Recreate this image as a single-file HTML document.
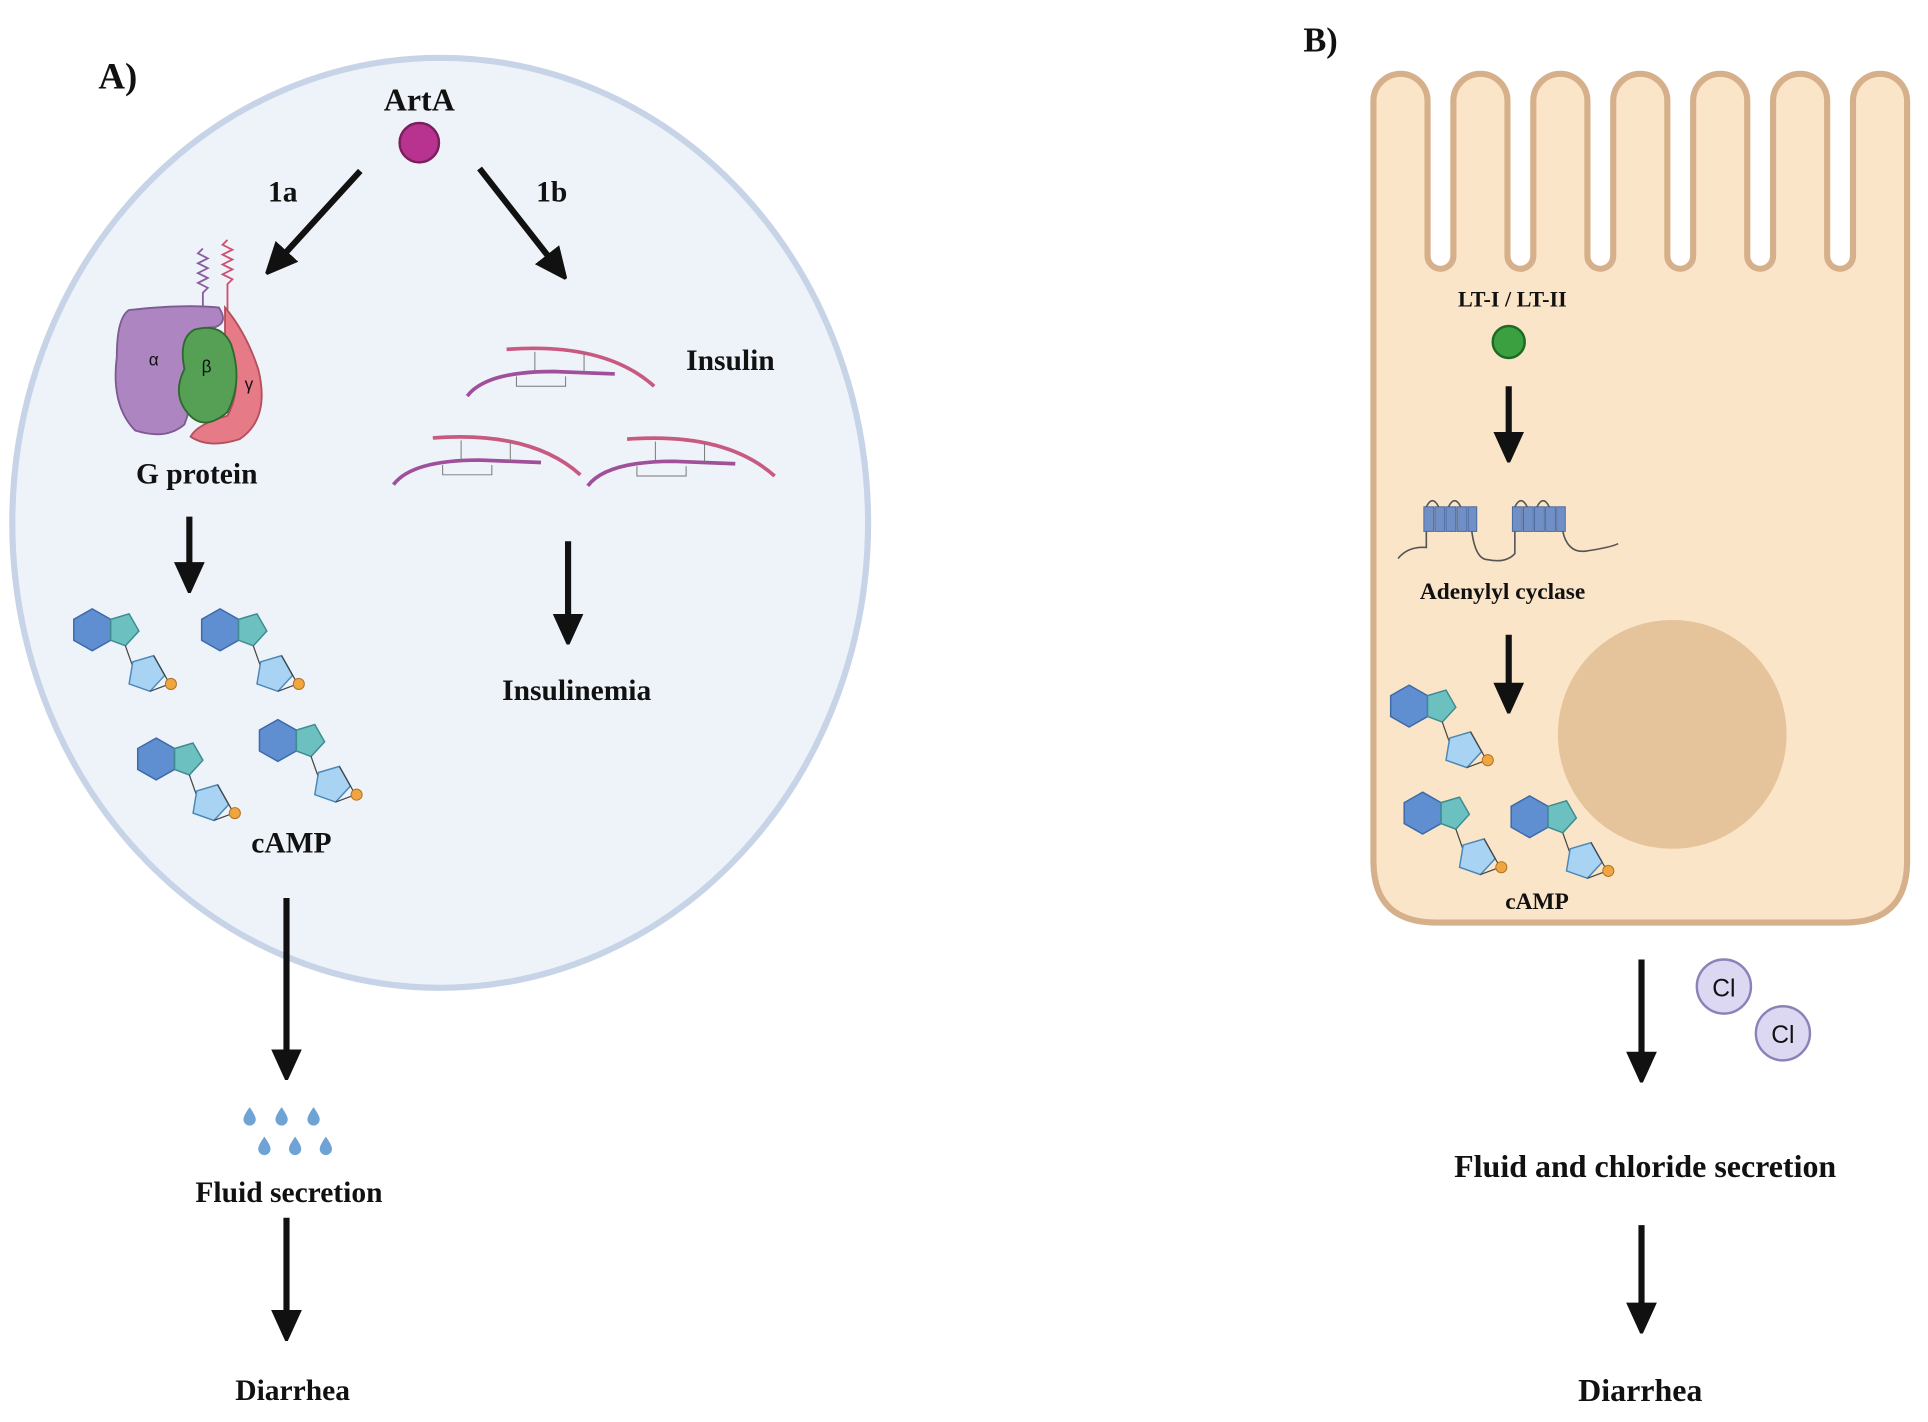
<!DOCTYPE html><html><head><style>html,body{margin:0;padding:0;background:#fff}svg{display:block}text{font-family:"Liberation Serif",serif;font-weight:bold;fill:#111}</style></head><body>
<svg width="1928" height="1422" viewBox="0 0 1568 1156" preserveAspectRatio="none">
<defs>
<g id="camp">
<polygon points="0,-17 15,-8.5 15,8.5 0,17 -15,8.5 -15,-8.5" fill="#5f8fd0" stroke="#3d6aa8" stroke-width="1.2"/>
<polygon points="15,-8.5 30,-13 38,1 27,13 15,8.5" fill="#6cc0c0" stroke="#3d8c90" stroke-width="1.2"/>
<line x1="27" y1="13" x2="33" y2="30" stroke="#444" stroke-width="1"/>
<polygon points="33,26 50,21 59,37 47,50 30,44" fill="#a9d3f3" stroke="#4a88b8" stroke-width="1.2"/>
<line x1="50" y1="21" x2="63" y2="44" stroke="#444" stroke-width="1"/><line x1="47" y1="50" x2="63" y2="44" stroke="#444" stroke-width="1"/>
<circle cx="64" cy="44" r="4.5" fill="#f0a640" stroke="#b07020" stroke-width="0.8"/>
</g>
<marker id="ah" markerWidth="5" markerHeight="5" refX="1" refY="2.5" orient="auto" markerUnits="strokeWidth"><path d="M0,0 L5.5,2.5 L0,5 Z" fill="#111"/></marker>
<g id="ins" fill="none" stroke-width="3">
<path d="M0,0 Q80,-6 120,30" stroke="#c85a80" transform="translate(-8,0)"/>
<path d="M-40,38 Q-25,18 30,18 L80,20" stroke="#a0509a"/>
<line x1="15" y1="2" x2="15" y2="18" stroke="#777" stroke-width="0.8"/><line x1="55" y1="3" x2="55" y2="19" stroke="#777" stroke-width="0.8"/>
<path d="M0,22 L0,30 L40,30 L40,22" stroke="#777" stroke-width="0.8"/>
</g>
</defs>
<text x="80" y="72" font-size="30">A)</text>
<text x="1060" y="42" font-size="28">B)</text>
<ellipse cx="358" cy="425" rx="348" ry="378" fill="#eef3fa" stroke="#c7d3e6" stroke-width="5"/>
<text x="341" y="90" font-size="26" text-anchor="middle">ArtA</text>
<circle cx="341" cy="116" r="16" fill="#b8338f" stroke="#7a1f5e" stroke-width="2"/>
<text x="218" y="164" font-size="24">1a</text><text x="436" y="164" font-size="24">1b</text>
<!-- G protein -->
<path d="M165,202 l-4,4 l8,4 l-8,4 l8,4 l-8,4 l8,4 l-8,4 l8,4 l-4,4 V250" stroke="#8a5fa0" stroke-width="1.5" fill="none"/>
<path d="M185,195 l-4,4 l8,4 l-8,4 l8,4 l-8,4 l8,4 l-8,4 l8,4 l-4,4 V260" stroke="#d05070" stroke-width="1.5" fill="none"/>
<path d="M105,252 Q150,247 178,250 Q186,262 175,266 Q150,266 150,290 Q160,320 150,345 Q135,358 110,350 Q90,330 95,290 Q95,258 105,252 Z" fill="#ad85c0" stroke="#7d5a92" stroke-width="1.5"/>
<path d="M183,250 Q200,270 210,300 Q220,340 195,357 Q170,365 155,355 Q160,345 185,338 Q200,310 183,275 Z" fill="#e67a86" stroke="#b4505e" stroke-width="1.5"/>
<path d="M158,268 Q180,262 188,280 Q198,310 185,335 Q165,352 152,335 Q140,320 150,300 Q145,275 158,268 Z" fill="#55a055" stroke="#2e6a30" stroke-width="1.5"/>
<text x="121" y="297" font-size="14" style="font-weight:normal;font-family:'Liberation Sans',sans-serif">α</text>
<text x="164" y="303" font-size="14" style="font-weight:normal;font-family:'Liberation Sans',sans-serif">β</text>
<text x="199" y="317" font-size="14" style="font-weight:normal;font-family:'Liberation Sans',sans-serif">γ</text>
<text x="160" y="393" font-size="24" text-anchor="middle">G protein</text>
<use href="#ins" transform="translate(420,284)"/>
<use href="#ins" transform="translate(360,356)"/>
<use href="#ins" transform="translate(518,357)"/>
<text x="558" y="301" font-size="24">Insulin</text>
<text x="469" y="569" font-size="24" text-anchor="middle">Insulinemia</text>
<use href="#camp" transform="translate(75,512)"/>
<use href="#camp" transform="translate(179,512)"/>
<use href="#camp" transform="translate(127,617)"/>
<use href="#camp" transform="translate(226,602)"/>
<text x="237" y="693" font-size="24" text-anchor="middle">cAMP</text>
<g fill="#6fa3d6">
<path d="M203,900 q-5,7 -5,10 a5,5 0 0 0 10,0 q0,-3 -5,-10z"/><path d="M229,900 q-5,7 -5,10 a5,5 0 0 0 10,0 q0,-3 -5,-10z"/><path d="M255,900 q-5,7 -5,10 a5,5 0 0 0 10,0 q0,-3 -5,-10z"/>
<path d="M215,924 q-5,7 -5,10 a5,5 0 0 0 10,0 q0,-3 -5,-10z"/><path d="M240,924 q-5,7 -5,10 a5,5 0 0 0 10,0 q0,-3 -5,-10z"/><path d="M265,924 q-5,7 -5,10 a5,5 0 0 0 10,0 q0,-3 -5,-10z"/>
</g>
<text x="235" y="977" font-size="24" text-anchor="middle">Fluid secretion</text>
<text x="238" y="1138" font-size="24" text-anchor="middle">Diarrhea</text>
<!-- Cell B -->
<path d="M1117,700 L1117,82 A22,22 0 0 1 1161,82 L1161,208 A10.5,10.5 0 0 0 1182,208 L1182,82 A22,22 0 0 1 1226,82 L1226,208 A10.5,10.5 0 0 0 1247,208 L1247,82 A22,22 0 0 1 1291,82 L1291,208 A10.5,10.5 0 0 0 1312,208 L1312,82 A22,22 0 0 1 1356,82 L1356,208 A10.5,10.5 0 0 0 1377,208 L1377,82 A22,22 0 0 1 1421,82 L1421,208 A10.5,10.5 0 0 0 1442,208 L1442,82 A22,22 0 0 1 1486,82 L1486,208 A10.5,10.5 0 0 0 1507,208 L1507,82 A22,22 0 0 1 1551,82 L1551,700 Q1551,750 1500,750 L1168,750 Q1117,750 1117,700 Z" fill="#fbe5c8" stroke="#d6b08a" stroke-width="5"/>
<circle cx="1360" cy="597" r="93" fill="#e6c49b"/>
<text x="1230" y="249" font-size="18" text-anchor="middle">LT-I / LT-II</text>
<circle cx="1227" cy="278" r="13" fill="#3aa040" stroke="#1f6a25" stroke-width="2"/>
<g fill="#6f8fc6" stroke="#4a6aa0" stroke-width="0.8">
<rect x="1158" y="412" width="8" height="20"/><rect x="1167" y="412" width="8" height="20"/><rect x="1176" y="412" width="8" height="20"/><rect x="1185" y="412" width="8" height="20"/><rect x="1194" y="412" width="7" height="20"/>
<rect x="1230" y="412" width="8" height="20"/><rect x="1239" y="412" width="8" height="20"/><rect x="1248" y="412" width="8" height="20"/><rect x="1257" y="412" width="8" height="20"/><rect x="1266" y="412" width="7" height="20"/>
</g>
<path d="M1137,454 Q1145,444 1160,445 L1160,432 M1160,412 q5,-10 10,0 M1178,412 q5,-10 10,0 M1197,432 Q1200,455 1210,455 Q1225,458 1232,450 L1232,432 M1232,412 q5,-10 10,0 M1250,412 q5,-10 10,0 M1271,432 Q1275,450 1290,448 Q1310,445 1316,442" stroke="#555" stroke-width="1.3" fill="none"/>
<text x="1222" y="487" font-size="19" text-anchor="middle">Adenylyl cyclase</text>
<use href="#camp" transform="translate(1146,574)"/>
<use href="#camp" transform="translate(1157,661)"/>
<use href="#camp" transform="translate(1244,664)"/>
<text x="1250" y="739" font-size="19" text-anchor="middle">cAMP</text>
<circle cx="1402" cy="802" r="22" fill="#dcd8f2" stroke="#8a82b8" stroke-width="2"/>
<circle cx="1450" cy="840" r="22" fill="#dcd8f2" stroke="#8a82b8" stroke-width="2"/>
<text x="1402" y="810" font-size="20" text-anchor="middle" style="font-weight:normal;font-family:'Liberation Sans',sans-serif">Cl</text>
<text x="1450" y="848" font-size="20" text-anchor="middle" style="font-weight:normal;font-family:'Liberation Sans',sans-serif">Cl</text>
<text x="1338" y="957" font-size="26" text-anchor="middle">Fluid and chloride secretion</text>
<text x="1334" y="1139" font-size="26" text-anchor="middle">Diarrhea</text>
<g stroke="#111" stroke-width="5" marker-end="url(#ah)">
<line x1="293" y1="139" x2="230" y2="208"/>
<line x1="390" y1="137" x2="448" y2="211"/>
<line x1="154" y1="420" x2="154" y2="462"/>
<line x1="462" y1="440" x2="462" y2="504"/>
<line x1="233" y1="730" x2="233" y2="858"/>
<line x1="233" y1="990" x2="233" y2="1070"/>
<line x1="1227" y1="314" x2="1227" y2="356"/>
<line x1="1227" y1="516" x2="1227" y2="560"/>
<line x1="1335" y1="780" x2="1335" y2="860"/>
<line x1="1335" y1="996" x2="1335" y2="1064"/>
</g>
</svg>
</body></html>
